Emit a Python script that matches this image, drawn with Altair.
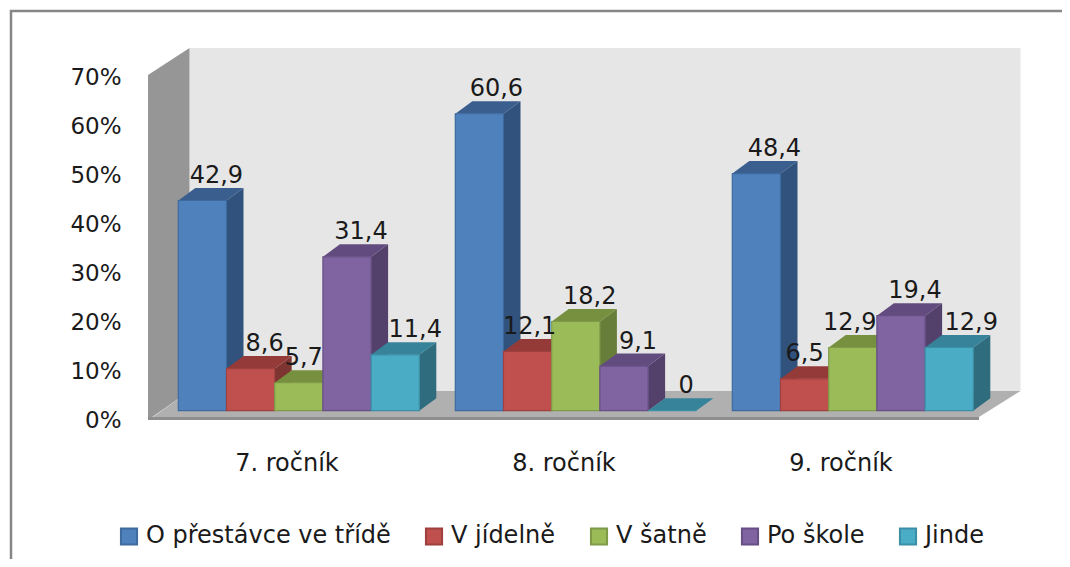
import altair as alt
import pandas as pd

groups = ["7. ročník", "8. ročník", "9. ročník"]
series = ["O přestávce ve třídě", "V jídelně", "V šatně", "Po škole", "Jinde"]
values = [
    [42.9, 60.6, 48.4],
    [8.6, 12.1, 6.5],
    [5.7, 18.2, 12.9],
    [31.4, 9.1, 19.4],
    [11.4, 0, 12.9],
]
labels = [
    ["42,9", "60,6", "48,4"],
    ["8,6", "12,1", "6,5"],
    ["5,7", "18,2", "12,9"],
    ["31,4", "9,1", "19,4"],
    ["11,4", "0", "12,9"],
]
front = ["#4F81BD", "#C0504D", "#9BBB59", "#8064A2", "#4BACC6"]
edge = ["#3F6A9E", "#9E403E", "#7F9A48", "#674F85", "#3B8FA6"]
side = ["#30527C", "#7E3532", "#677D3A", "#54416B", "#2F6C7E"]
top = ["#3A5F8F", "#943B39", "#76903F", "#624C7F", "#36839A"]
# horizontal shift of each value label from its bar, in pixels
label_nudge = [
    [-3, 0, 1],
    [-3, -15, -17],
    [-12, -3, -20],
    [-3, -3, -3],
    [3, -3, 5],
]

W, H = 1054, 551
PX_X, PX_Y = 277.0, 4.9      # pixels per category, per percentage point
X0, Y0 = 140.0, 410.0        # plot position of category 0 and of 0 %
xdom = [-X0 / PX_X, (W - X0) / PX_X]
ydom = [(Y0 - H) / PX_Y, Y0 / PX_Y]
xs = alt.Scale(domain=xdom, nice=False, zero=False)
ys = alt.Scale(domain=ydom, nice=False, zero=False)

BW = 48.2 / PX_X
ZX, ZY = 12.3 / PX_X, 7.3 / PX_Y   # bar plane behind the axis plane
DX, DY = 17.0 / PX_X, 12.5 / PX_Y  # bar depth
WX, WY = 41.5 / PX_X, 27.0 / PX_Y  # wall depth


def area_v(rows, color, **kw):
    return alt.Chart(pd.DataFrame(rows)).mark_area(color=color, interpolate="linear", **kw).encode(
        x=alt.X("x:Q", scale=xs),
        y=alt.Y("y:Q", scale=ys),
        y2="y2:Q",
        detail="k:N",
    )


def area_h(rows, color, **kw):
    return alt.Chart(pd.DataFrame(rows)).mark_area(color=color, orient="horizontal", interpolate="linear", **kw).encode(
        y=alt.Y("y:Q", scale=ys),
        x=alt.X("x:Q", scale=xs),
        x2="x2:Q",
        detail="k:N",
    )


layers = []

NG = len(groups)

# axes come first so that they define the shared scales
axis_df = pd.DataFrame({"x": [0.5, 1.5, 2.5], "y": [0, 0, 0]})
x_expr = "['" + "','".join(groups) + "'][floor(datum.value)]"
layers.append(
    alt.Chart(axis_df).mark_point(opacity=0).encode(
        x=alt.X(
            "x:Q",
            scale=xs,
            axis=alt.Axis(
                title=None, values=[0.5, 1.5, 2.5], labelExpr=x_expr, domain=False, ticks=False, grid=False,
                offset=-(H - 443), labelFont="DejaVu Sans", labelFontSize=24, labelColor="#1a1a1a",
                labelPadding=0, labelBaseline="top", zindex=1,
            ),
        ),
        y=alt.Y(
            "y:Q",
            scale=ys,
            axis=alt.Axis(
                title=None, values=list(range(0, 80, 10)), labelExpr="datum.value + '%'", domain=False, ticks=False,
                grid=False, offset=-(X0 - 27), labelFont="DejaVu Sans", labelFontSize=23, labelColor="#1a1a1a",
                labelPadding=0, labelBaseline="middle", labelOffset=2.5, zindex=1,
            ),
        ),
    )
)

# chart frame
frame = pd.DataFrame([{"x": xdom[0], "x2": xdom[1], "y": ydom[0], "y2": ydom[1]}])
layers.append(
    alt.Chart(frame).mark_rect(fill="white", stroke="#868686", strokeWidth=2.5).encode(
        x=alt.value(3), x2=alt.value(W + 20), y=alt.value(3), y2=alt.value(H + 20)
    )
)

# walls
back = pd.DataFrame([{"x": WX, "x2": NG + WX, "y": WY, "y2": 70 + WY}])
layers.append(
    alt.Chart(back).mark_rect(color="#E6E6E6").encode(
        x=alt.X("x:Q", scale=xs), x2="x2:Q",
        y=alt.Y("y:Q", scale=ys), y2="y2:Q",
    )
)
SLB, SLT = -0.4, 0.2
layers.append(
    area_v(
        [
            {"x": 0, "y": SLB, "y2": 70, "k": "w"},
            {"x": WX, "y": WY, "y2": 70 + WY, "k": "w"},
        ],
        "#969696",
    )
)
layers.append(
    area_h(
        [
            {"y": SLT, "x": 0.018, "x2": NG, "k": "f"},
            {"y": WY, "x": WX, "x2": NG + WX, "k": "f"},
        ],
        "#B0B0B0",
    )
)
layers.append(
    area_v(
        [
            {"x": 0, "y": SLB, "y2": SLT, "k": "s"},
            {"x": NG, "y": SLB, "y2": SLT, "k": "s"},
        ],
        "#8E8E8E",
    )
)

legend_opts = dict(
    title=None,
    orient="none",
    legendX=109,
    legendY=516,
    direction="horizontal",
    columns=5,
    symbolType="square",
    symbolSize=260,
    symbolStrokeWidth=2,
    labelFont="DejaVu Sans",
    labelFontSize=24,
    labelColor="#1a1a1a",
    labelOffset=5,
    labelLimit=400,
    columnPadding=30,
)

# bars
for s, name in enumerate(series):
    side_rows, top_rows, front_rows = [], [], []
    for g in range(NG):
        v = values[s][g]
        a = g + 0.5 + (s - 2.5) * BW + ZX
        b = a + BW
        k = f"{g}"
        side_rows += [
            {"x": b, "y": ZY, "y2": ZY + v, "k": k},
            {"x": b + DX, "y": ZY + DY, "y2": ZY + v + DY, "k": k},
        ]
        top_rows += [
            {"y": ZY + v, "x": a, "x2": b, "k": k},
            {"y": ZY + v + DY, "x": a + DX, "x2": b + DX, "k": k},
        ]
        front_rows.append({"x": a, "x2": b, "y": ZY, "y2": ZY + v, "series": name})
    layers.append(area_v(side_rows, side[s]))
    layers.append(area_h(top_rows, top[s]))
    layers.append(
        alt.Chart(pd.DataFrame(front_rows)).mark_rect(strokeWidth=1.2).encode(
            x=alt.X("x:Q", scale=xs),
            x2="x2:Q",
            y=alt.Y("y:Q", scale=ys),
            y2="y2:Q",
            fill=alt.Fill("series:N", scale=alt.Scale(domain=series, range=front), legend=alt.Legend(**legend_opts)),
            stroke=alt.Stroke("series:N", scale=alt.Scale(domain=series, range=edge), legend=alt.Legend(**legend_opts)),
        )
    )

# value labels
label_rows = []
for s in range(len(series)):
    for g in range(NG):
        label_rows.append(
            {
                "x": g + 0.5 + (s - 2.5) * BW + ZX + BW / 2 + DX + label_nudge[s][g] / PX_X,
                "y": ZY + DY + values[s][g],
                "t": labels[s][g],
            }
        )
layers.append(
    alt.Chart(pd.DataFrame(label_rows)).mark_text(
        font="DejaVu Sans", fontSize=24, color="#1a1a1a", baseline="bottom", dy=0, align="center"
    ).encode(
        x=alt.X("x:Q", scale=xs),
        y=alt.Y("y:Q", scale=ys),
        text="t:N",
    )
)

chart = (
    alt.layer(*layers)
    .resolve_scale(x="shared", y="shared")
    .properties(width=W, height=H, padding=0, autosize=alt.AutoSizeParams(type="none"))
    .configure_view(stroke=None)
)
chart.save("out.html", embed_options={"renderer": "svg", "actions": False})
